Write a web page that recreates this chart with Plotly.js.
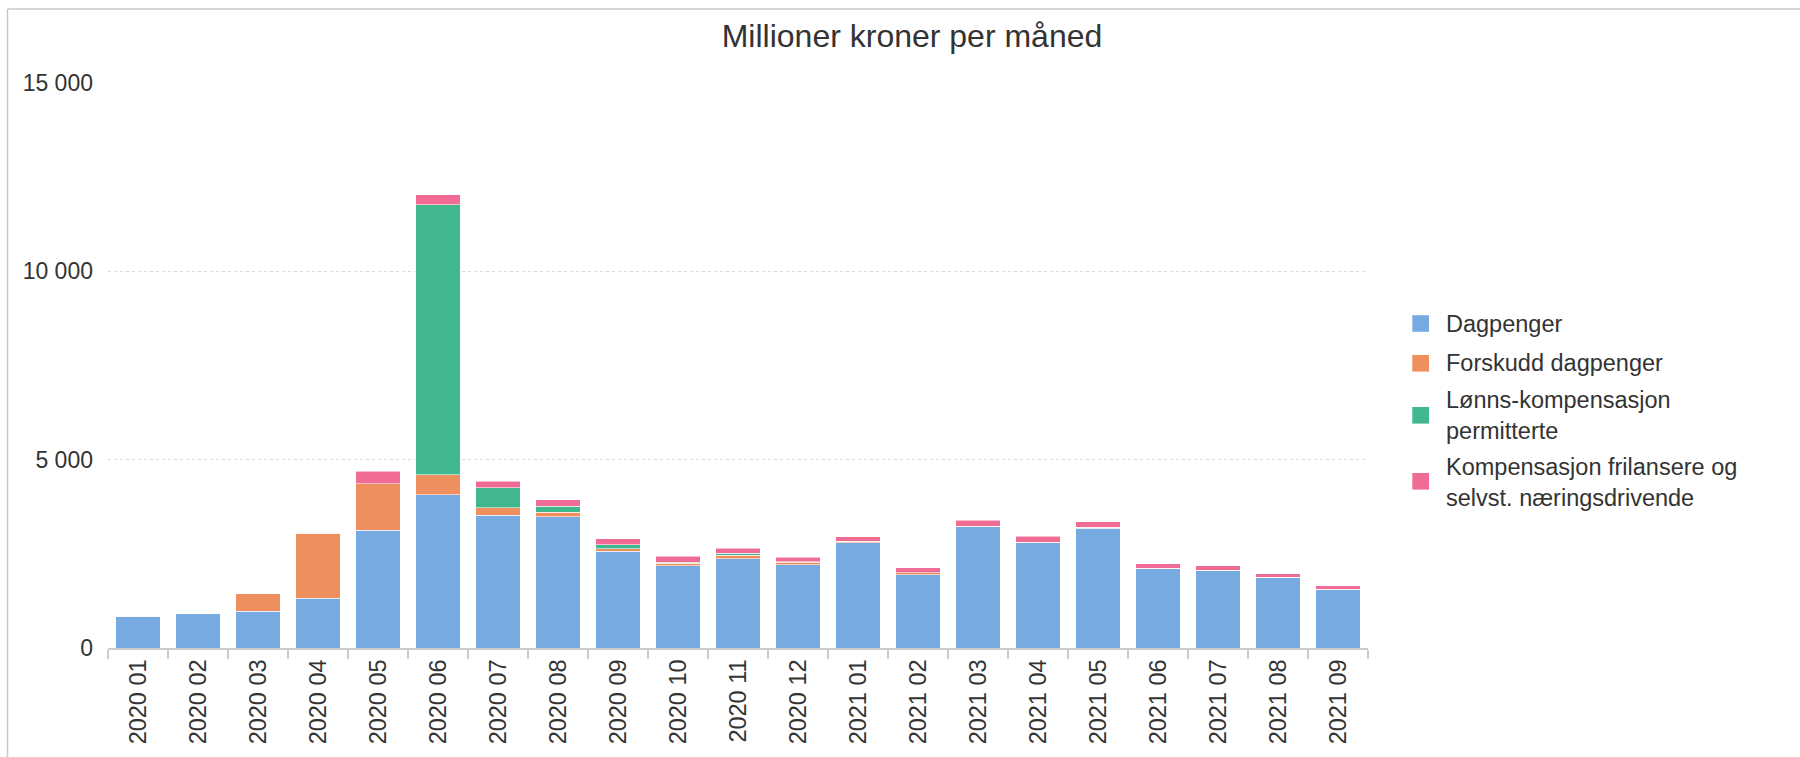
<!DOCTYPE html>
<html>
<head>
<meta charset="utf-8">
<script src="https://cdn.plot.ly/plotly-3.0.1.min.js"></script>
<style>html,body{margin:0;padding:0;background:#fff;}#chart{width:1800px;height:757px;}</style>
</head>
<body>
<div id="chart"></div>
<script>
// Categories (months)
const months = ["2020 01","2020 02","2020 03","2020 04","2020 05","2020 06","2020 07","2020 08","2020 09","2020 10","2020 11","2020 12",
                "2021 01","2021 02","2021 03","2021 04","2021 05","2021 06","2021 07","2021 08","2021 09"];

// Series values (million NOK per month)
const dagpenger        = [838, 926, 979, 1323, 3122, 4074, 3527, 3484, 2575, 2178, 2372, 2213, 2796, 1949, 3219, 2796, 3175, 2108, 2063, 1878, 1552];
const forskudd         = [0, 0, 458, 1719, 1235, 529, 195, 114, 62, 70, 88, 62, 44, 44, 15, 10, 35, 5, 5, 3, 3];
const lonnskompensasjon= [0, 0, 0, 0, 0, 7164, 529, 159, 106, 35, 53, 10, 0, 0, 0, 0, 0, 0, 0, 0, 0];
const frilansere       = [0, 0, 0, 0, 334, 264, 176, 185, 159, 150, 141, 124, 114, 141, 152, 157, 141, 118, 110, 94, 103];

const seriesNames = ["Dagpenger", "Forskudd dagpenger", "Lønns-kompensasjon<br>permitterte", "Kompensasjon frilansere og<br>selvst. næringsdrivende"];
const seriesData = [dagpenger, forskudd, lonnskompensasjon, frilansere];
const colors = ["#76aae1", "#ef8f5e", "#41b78e", "#f16c94"];

// Y tick labels
const yTickVals = [0, 5000, 10000, 15000];
const yTickText = ["0", "5 000", "10 000", "15 000"];

const FONT = "'Liberation Sans', Arial, Helvetica, sans-serif";

const traces = seriesData.map((vals, i) => ({
  type: "bar",
  name: seriesNames[i],
  x: months,
  y: vals,
  marker: { color: colors[i], line: { color: "rgba(255,255,255,0.55)", width: 1 } },
  showlegend: false,
  hoverinfo: "x+y+name"
}));

// plot area geometry (pixels) used only for placing the custom legend and frame
const L = 108, R = 1368, T = 83, B = 648;
const px = p => (p - L) / (R - L);
const py = p => (B - p) / (B - T);

const shapes = [
  { type: "line", xref: "paper", yref: "paper", x0: px(7.5), x1: px(7.5), y0: py(9), y1: py(760), line: { color: "#c8c8c8", width: 1.5 } },
  { type: "line", xref: "paper", yref: "paper", x0: px(7.5), x1: px(1802), y0: py(9), y1: py(9), line: { color: "#c8c8c8", width: 1.5 } }
];
const annotations = [];
const legendCenters = [323.5, 363.3, 415.3, 481.3];
const textCenters = [323.5, 363.3, 415.8, 482.8];
seriesNames.forEach((n, i) => {
  shapes.push({ type: "rect", xref: "paper", yref: "paper",
    x0: px(1412.3), x1: px(1429), y0: py(legendCenters[i] - 8.3), y1: py(legendCenters[i] + 8.3),
    fillcolor: colors[i], line: { width: 0 } });
  annotations.push({ xref: "paper", yref: "paper", x: px(1444), y: py(textCenters[i]),
    xanchor: "left", yanchor: "middle", align: "left", showarrow: false, text: n,
    font: { family: FONT, size: 23.5, color: "#333" } });
});

const layout = {
  width: 1800, height: 757,
  margin: { l: L, r: 1800 - R, t: T, b: 757 - B, pad: 0 },
  paper_bgcolor: "#fff", plot_bgcolor: "#fff",
  barmode: "stack",
  bargap: 0.255,
  font: { family: FONT, size: 23, color: "#333" },
  title: { text: "Millioner kroner per måned", x: 912 / 1800, xanchor: "center", xref: "container",
           y: 1 - 36 / 757, yanchor: "middle", yref: "container",
           font: { family: FONT, size: 32, color: "#333" } },
  xaxis: {
    type: "category", tickangle: -90, tickson: "boundaries",
    ticks: "outside", ticklen: 9, tickwidth: 2, tickcolor: "#cccccc",
    showline: true, linecolor: "#cccccc", linewidth: 2,
    showgrid: false, zeroline: false,
    tickfont: { family: FONT, size: 23.5, color: "#333" }
  },
  yaxis: {
    range: [0, 15000], tickvals: yTickVals, ticktext: yTickText,
    showgrid: true, gridcolor: "#d9d9d9", griddash: "dot", gridwidth: 1,
    zeroline: false, showline: false, ticks: "", ticklabelstandoff: 14,
    tickfont: { family: FONT, size: 23, color: "#333" }
  },
  shapes: shapes,
  annotations: annotations,
  showlegend: false
};

Plotly.newPlot("chart", traces, layout, { displayModeBar: false, staticPlot: true });
</script>
</body>
</html>
